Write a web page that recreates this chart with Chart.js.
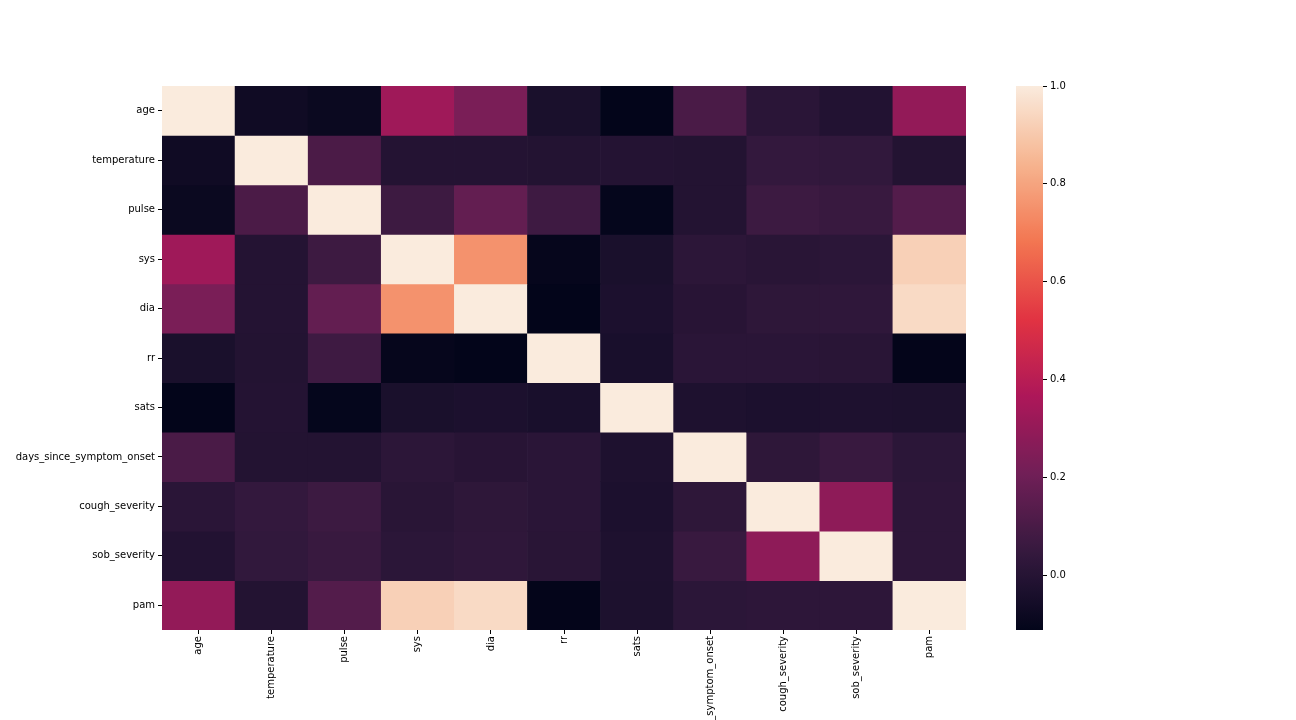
<!DOCTYPE html>
<html>
<head>
<meta charset="utf-8">
<script src="https://cdn.jsdelivr.net/npm/chart.js@4.4.0/dist/chart.umd.min.js"></script>
<style>
  html, body { margin: 0; padding: 0; background: #ffffff; }
  #wrap { position: relative; width: 1296px; height: 720px; overflow: hidden; }
  canvas { position: absolute; left: 0; top: 0; }
</style>
</head>
<body>
<div id="wrap">
  <canvas id="heat" width="1296" height="720"></canvas>
  <canvas id="cbar" width="1296" height="720"></canvas>
</div>
<script>
// ---- data ----
const variables = ["age", "temperature", "pulse", "sys", "dia", "rr", "sats",
  "days_since_symptom_onset", "cough_severity", "sob_severity", "pam"];

const rowAge   = [1, -0.070, -0.086, 0.328, 0.232, -0.037, -0.112, 0.104, 0.012, -0.012, 0.297];
const rowTemp  = [-0.070, 1, 0.106, -0.006, -0.006, -0.010, -0.006, -0.010, 0.040, 0.036, -0.008];
const rowPulse = [-0.086, 0.106, 1, 0.068, 0.171, 0.072, -0.105, -0.008, 0.066, 0.055, 0.128];
const rowSys   = [0.328, -0.006, 0.068, 1, 0.753, -0.102, -0.037, 0.018, 0.010, 0.016, 0.922];
const rowDia   = [0.232, -0.006, 0.171, 0.753, 1, -0.112, -0.030, 0.005, 0.025, 0.027, 0.951];
const rowRr    = [-0.037, -0.010, 0.072, -0.102, -0.112, 1, -0.040, 0.013, 0.013, 0.008, -0.110];
const rowSats  = [-0.112, -0.006, -0.105, -0.037, -0.030, -0.040, 1, -0.026, -0.030, -0.024, -0.028];
const rowDays  = [0.104, -0.010, -0.008, 0.018, 0.005, 0.013, -0.026, 1, 0.025, 0.055, 0.016];
const rowCough = [0.012, 0.040, 0.066, 0.010, 0.025, 0.013, -0.030, 0.025, 1, 0.284, 0.022];
const rowSob   = [-0.012, 0.036, 0.055, 0.016, 0.027, 0.008, -0.024, 0.055, 0.284, 1, 0.022];
const rowPam   = [0.297, -0.008, 0.128, 0.922, 0.951, -0.110, -0.028, 0.016, 0.022, 0.022, 1];

const matrix = [rowAge, rowTemp, rowPulse, rowSys, rowDia, rowRr, rowSats, rowDays, rowCough, rowSob, rowPam];
const colorbarTicks = [0.0, 0.2, 0.4, 0.6, 0.8, 1.0];

// ---- rocket colormap (approximation) ----
const rocketStops = [
  [0.000, [3, 5, 26]],
  [0.070, [27, 16, 45]],
  [0.143, [53, 25, 62]],
  [0.286, [112, 31, 87]],
  [0.429, [173, 23, 89]],
  [0.571, [225, 51, 66]],
  [0.714, [243, 118, 81]],
  [0.857, [246, 180, 143]],
  [1.000, [250, 235, 221]]
];
function rocket(t) {
  t = Math.max(0, Math.min(1, t));
  for (let i = 1; i < rocketStops.length; i++) {
    const [t1, c1] = rocketStops[i];
    const [t0, c0] = rocketStops[i - 1];
    if (t <= t1) {
      const f = (t - t0) / (t1 - t0);
      const c = c0.map((v, k) => Math.round(v + (c1[k] - v) * f));
      return `rgb(${c[0]},${c[1]},${c[2]})`;
    }
  }
  const c = rocketStops[rocketStops.length - 1][1];
  return `rgb(${c[0]},${c[1]},${c[2]})`;
}

const vmin = Math.min(...matrix.flat());
const vmax = Math.max(...matrix.flat());
const colorOf = v => rocket((v - vmin) / (vmax - vmin));

Chart.defaults.font.family = "'DejaVu Sans', sans-serif";
Chart.defaults.font.size = 10;
Chart.defaults.color = '#000000';

// ---- heatmap ----
const heatDatasets = matrix.map((row, r) => ({
  label: variables[r],
  data: row.map(() => [r, r + 1]),
  backgroundColor: row.map(colorOf),
  borderWidth: 0,
  borderSkipped: false,
  barPercentage: 1,
  categoryPercentage: 1,
  grouped: false
}));

new Chart(document.getElementById('heat'), {
  type: 'bar',
  data: { labels: variables, datasets: heatDatasets },
  options: {
    responsive: false,
    animation: false,
    devicePixelRatio: 1,
    layout: { padding: { left: 0, top: 86, right: 330, bottom: 0 } },
    plugins: { legend: { display: false }, tooltip: { enabled: false } },
    scales: {
      x: {
        type: 'category',
        offset: true,
        border: { display: false },
        grid: { display: true, drawOnChartArea: false, offset: false, tickLength: 4, color: '#000000', lineWidth: 1 },
        ticks: { autoSkip: false, maxRotation: 90, minRotation: 90, padding: 2, color: '#000000' },
        afterFit: s => { s.height = 90; }
      },
      y: {
        type: 'linear',
        min: 0, max: variables.length,
        reverse: true,
        border: { display: false },
        grid: { display: true, drawOnChartArea: false, tickLength: 4, color: '#000000', lineWidth: 1 },
        afterBuildTicks: s => { s.ticks = variables.map((_, i) => ({ value: i + 0.5 })); },
        ticks: { autoSkip: false, padding: 3, color: '#000000', callback: v => variables[Math.floor(v)] },
        afterFit: s => { s.width = 162; }
      }
    }
  }
});

// ---- colorbar ----
new Chart(document.getElementById('cbar'), {
  type: 'bar',
  data: {
    labels: ['cbar'],
    datasets: [{
      data: [[vmin, vmax]],
      borderWidth: 0,
      borderSkipped: false,
      barPercentage: 1,
      categoryPercentage: 1,
      backgroundColor: (ctx) => {
        const ch = ctx.chart;
        const a = ch.chartArea;
        if (!a) return 'rgba(0,0,0,0)';
        const g = ch.ctx.createLinearGradient(0, a.bottom, 0, a.top);
        for (let i = 0; i <= 100; i++) g.addColorStop(i / 100, rocket(i / 100));
        return g;
      }
    }]
  },
  options: {
    responsive: false,
    animation: false,
    devicePixelRatio: 1,
    layout: { padding: { left: 1016, top: 86, right: 213, bottom: 90 } },
    plugins: { legend: { display: false }, tooltip: { enabled: false } },
    scales: {
      x: { display: false, offset: true },
      y: {
        type: 'linear',
        position: 'right',
        min: vmin, max: vmax,
        border: { display: false },
        grid: { display: true, drawOnChartArea: false, tickLength: 4, color: '#000000', lineWidth: 1 },
        afterBuildTicks: s => { s.ticks = colorbarTicks.map(v => ({ value: v })); },
        ticks: { padding: 3, color: '#000000', callback: v => Number(v).toFixed(1) },
        afterFit: s => { s.width = 40; }
      }
    }
  }
});
</script>
</body>
</html>
